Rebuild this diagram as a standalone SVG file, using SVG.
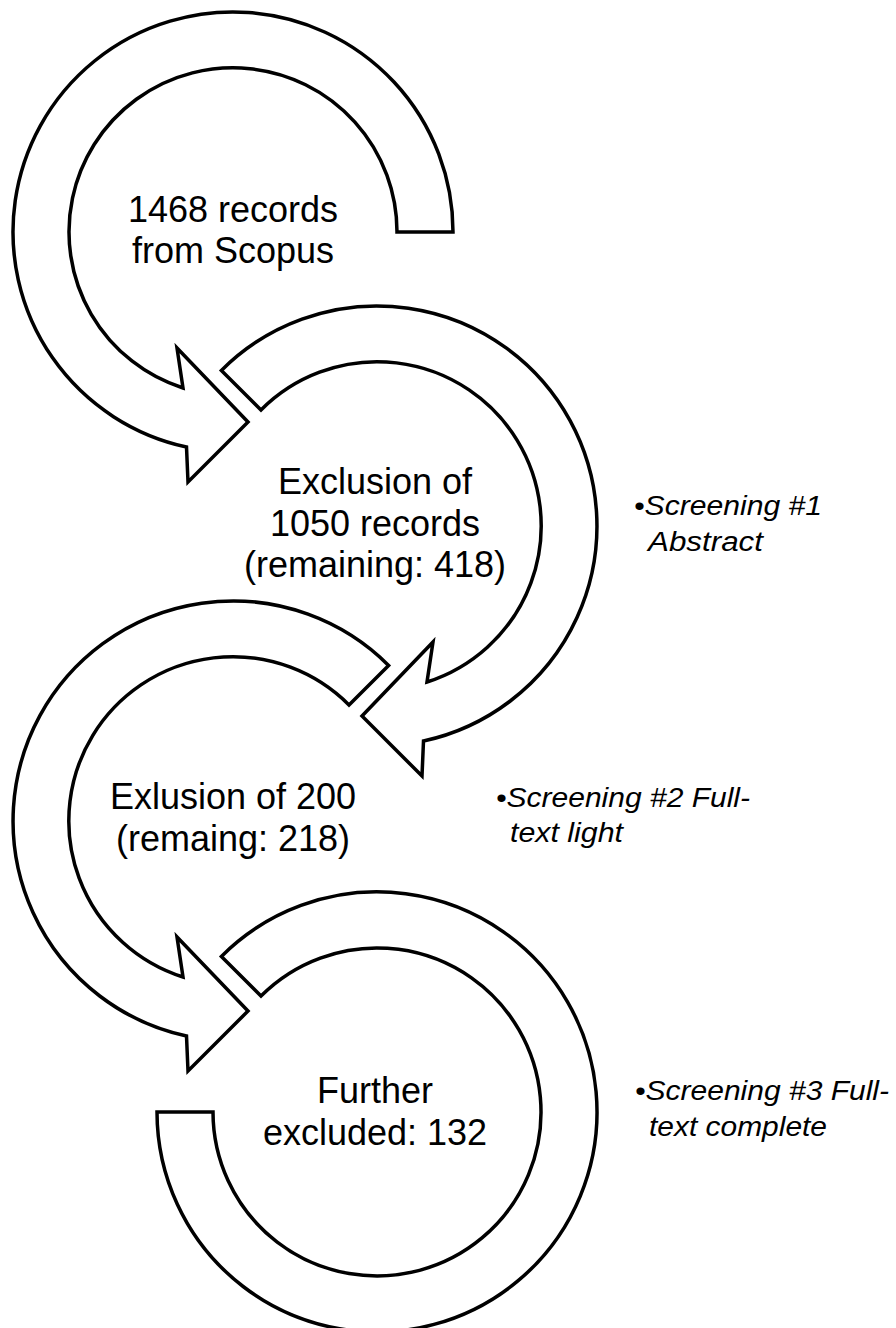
<svg xmlns="http://www.w3.org/2000/svg" width="896" height="1328" viewBox="0 0 896 1328">
<style>
.arr{fill:#fff;stroke:#000;stroke-width:3.5;stroke-linejoin:miter}
.lbl{font-family:"Liberation Sans",Arial,sans-serif;font-size:36px;fill:#000;text-anchor:middle}
.side{font-family:"Liberation Sans",Arial,sans-serif;font-size:27px;font-style:italic;fill:#000}
</style>
<rect width="896" height="1328" fill="#fff"/>
<g id="connectors">
</g>
<g id="node1">
<path class="arr" d="M453,232 A220,220 0 1 0 186.5,447 L188,482 L248,422 L177,348 L183,388 A164,164 0 1 1 397,232 Z"/>
<text class="lbl" x="233" y="222">1468 records</text>
<text class="lbl" x="233" y="263">from Scopus</text>
</g>
<g id="node2">
<path class="arr" d="M221.4,370.4 A220,220 0 1 1 423.5,741 L422,776 L362,716 L433,642 L427,682 A164,164 0 1 0 261,410 Z"/>
<text class="lbl" x="375" y="494">Exclusion of</text>
<text class="lbl" x="375" y="536">1050 records</text>
<text class="lbl" x="375" y="577">(remaining: 418)</text>
</g>
<g id="node3">
<path class="arr" d="M388.6,665.4 A220,220 0 1 0 186.5,1036 L188,1071 L248,1011 L177,937 L183,977 A164,164 0 1 1 349,705 Z"/>
<text class="lbl" x="233" y="809">Exlusion of 200</text>
<text class="lbl" x="233" y="851">(remaing: 218)</text>
</g>
<g id="node4">
<path class="arr" d="M221.4,956.4 A220,220 0 1 1 157,1112 L213,1112 A164,164 0 1 0 261,996 Z"/>
<text class="lbl" x="375" y="1103">Further</text>
<text class="lbl" x="375" y="1145">excluded: 132</text>
</g>
<g id="label1">
<text class="side" x="634" y="515" textLength="188" lengthAdjust="spacingAndGlyphs">•Screening #1</text>
<text class="side" x="648" y="551" textLength="115" lengthAdjust="spacingAndGlyphs">Abstract</text>
</g>
<g id="label2">
<text class="side" x="496" y="807" textLength="254" lengthAdjust="spacingAndGlyphs">•Screening #2 Full-</text>
<text class="side" x="510" y="842" textLength="113" lengthAdjust="spacingAndGlyphs">text light</text>
</g>
<g id="label3">
<text class="side" x="635" y="1100" textLength="254" lengthAdjust="spacingAndGlyphs">•Screening #3 Full-</text>
<text class="side" x="649" y="1136" textLength="178" lengthAdjust="spacingAndGlyphs">text complete</text>
</g>
</svg>
